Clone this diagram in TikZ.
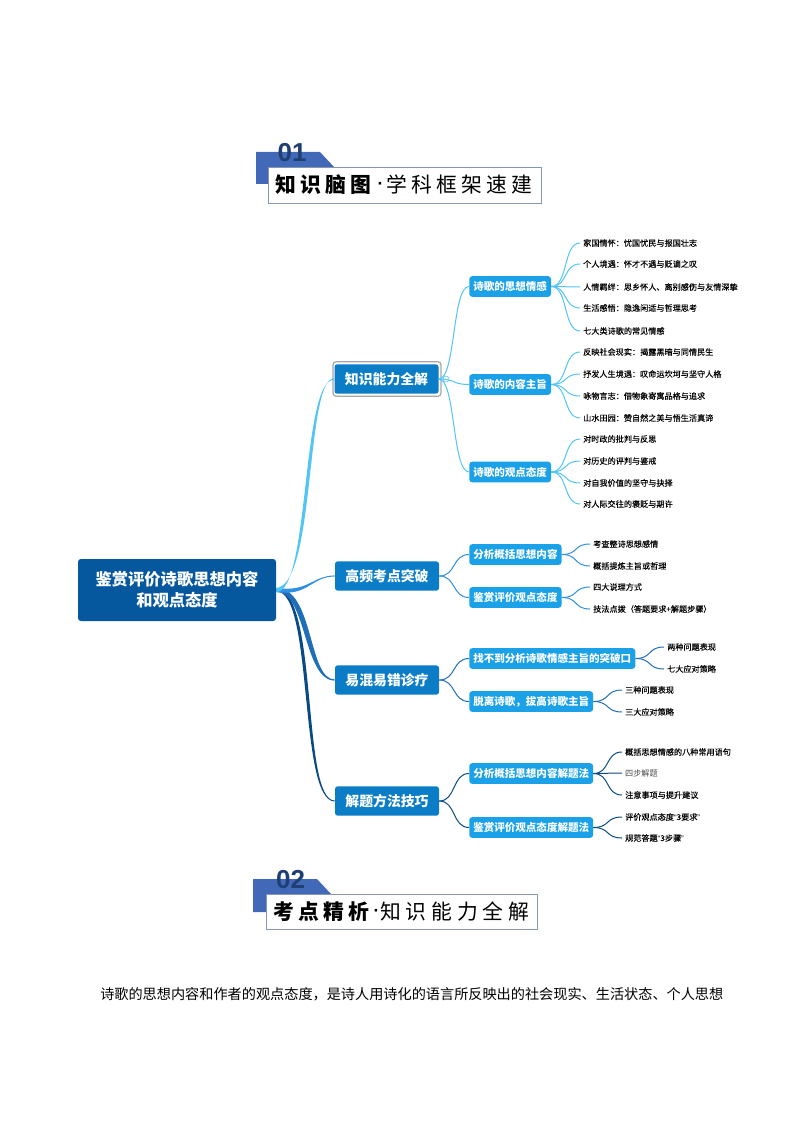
\documentclass[tikz,border=0pt]{standalone}
\usepackage{fontspec}
\usetikzlibrary{calc}
\setmainfont{Noto Sans CJK SC}
\newfontfamily\spaced[LetterSpace=20]{Noto Sans CJK SC}
\newfontfamily\spacedb[LetterSpace=23]{Noto Sans CJK SC}
\newfontfamily\leaffont[FakeBold=0.15]{Noto Sans CJK SC}
\newfontfamily\numfont{Liberation Sans}
\definecolor{rootc}{HTML}{05589D}
\definecolor{lonec}{HTML}{0B7DC7}
\definecolor{ltwoc}{HTML}{1AA1E8}
\definecolor{ca}{HTML}{52C4F5}
\definecolor{cb}{HTML}{2F8FE0}
\definecolor{cc}{HTML}{1F6FB8}
\definecolor{cd}{HTML}{0A4A84}
\definecolor{ribbon}{HTML}{4269B8}
\definecolor{numc}{HTML}{1F3F73}
\definecolor{framec}{HTML}{8595B2}
\tikzset{
 rootbox/.style={fill=rootc,rounded corners=2.2,text=white,font=\bfseries\fontsize{12.2pt}{15.7pt}\selectfont,align=center,minimum width=148.5pt,minimum height=46.5pt,inner sep=0pt},
 lone/.style={fill=lonec,rounded corners=2,text=white,font=\bfseries\fontsize{10.4pt}{12pt}\selectfont,minimum width=78pt,minimum height=22pt,inner sep=0pt},
 ltwo/.style={fill=ltwoc,rounded corners=2.2,text=white,font=\bfseries\fontsize{7.9pt}{10pt}\selectfont,minimum height=15.5pt,inner xsep=3pt,inner ysep=0pt,anchor=west},
 leaf/.style={anchor=west,inner xsep=2.2pt,inner ysep=0pt,text=black,font=\leaffont\fontsize{6.1pt}{7.5pt}\selectfont},
 link/.style={line width=0.75pt},
 titlebox/.style={draw=framec,fill=white,line width=0.8pt,minimum width=204pt,minimum height=27pt,inner sep=0pt,anchor=north west},
 titletext/.style={anchor=west,inner sep=0pt,font=\fontsize{15.6pt}{18pt}\selectfont},
 titledot/.style={anchor=center,inner sep=0pt,font=\numfont\bfseries\fontsize{13pt}{14pt}\selectfont},
 numtext/.style={inner sep=0pt,text=numc,font=\numfont\bfseries\fontsize{19.5pt}{20pt}\selectfont},
}
\newcommand{\conn}[3][ca]{\draw[link,color=#1] (#2.east) .. controls ($(#2.east)+(17,0)$) and ($(#3.west)+(-17,0)$) .. (#3.west);}
% colour, target, end half width, start half width, four control points
\newcommand{\taper}[8]{\fill[#1] ($(root.east)+(0,-#4)$) .. controls #5 and #6 .. ($(#2.west)+(0,-#3)$) -- ($(#2.west)+(0,#3)$) .. controls #7 and #8 .. ($(root.east)+(0,#4)$) -- cycle;}
\begin{document}
\begin{tikzpicture}[x=0.75pt,y=-0.75pt]
\useasboundingbox (0,0) rectangle (794,1123);
% title 1
\fill[ribbon] (256,152) -- (320,152) -- (334,167) -- (334,184) -- (256,184) -- cycle;
\node[numtext] (numa) at (292,153) {01};
\node[titlebox,minimum width=204.75pt] (ta) at (268,167) {};
\node[titletext] (tat) at (275,185) {\spaced\bfseries 知识脑图};
\node[titledot] (tad) at (380.5,186) {·};
\node[titletext] (tau) at (386,185) {\spaced 学科框架速建};
% root
\node[rootbox] (root) at (177,590) {鉴赏评价诗歌思想内容\\和观点态度};
% level 1
\node[draw=gray!70,line width=0.9pt,rounded corners=2.4,minimum width=81pt,minimum height=26pt,inner sep=0pt] (frame) at (387,379) {};
\node[lone] (a) at (386.5,379) {知识能力全解};
\node[lone] (b) at (387,576) {高频考点突破};
\node[lone] (c) at (387,680) {易混易错诊疗};
\node[lone] (d) at (387,801) {解题方法技巧};
\node[circle,draw=ca,fill=white,line width=0.4pt,minimum size=4.5pt,inner sep=0pt] (mark) at (446,379) {};
% level 2
\node[ltwo] (a1) at (469,286.5) {诗歌的思想情感};
\node[ltwo] (a2) at (469,384.5) {诗歌的内容主旨};
\node[ltwo] (a3) at (469,472) {诗歌的观点态度};
\node[ltwo] (b1) at (469,554.5) {分析概括思想内容};
\node[ltwo] (b2) at (469,597.5) {鉴赏评价观点态度};
\node[ltwo] (c1) at (469,658.5) {找不到分析诗歌情感主旨的突破口};
\node[ltwo] (c2) at (469,701.5) {脱离诗歌，拔高诗歌主旨};
\node[ltwo] (d1) at (469,773.5) {分析概括思想内容解题法};
\node[ltwo] (d2) at (469,827.5) {鉴赏评价观点态度解题法};
% leaves
\node[leaf] (a11) at (580,243) {家国情怀：忧国忧民与报国壮志};
\node[leaf] (a12) at (580,264) {个人境遇：怀才不遇与贬谪之叹};
\node[leaf] (a13) at (580,287) {人情羁绊：思乡怀人、离别感伤与友情深挚};
\node[leaf] (a14) at (580,308) {生活感悟：隐逸闲适与哲理思考};
\node[leaf] (a15) at (580,331) {七大类诗歌的常见情感};
\node[leaf] (a21) at (580,352) {反映社会现实：揭露黑暗与同情民生};
\node[leaf] (a22) at (580,374) {抒发人生境遇：叹命运坎坷与坚守人格};
\node[leaf] (a23) at (580,396) {咏物言志：借物象寄寓品格与追求};
\node[leaf] (a24) at (580,418) {山水田园：赞自然之美与悟生活真谛};
\node[leaf] (a31) at (580,439) {对时政的批判与反思};
\node[leaf] (a32) at (580,461) {对历史的评判与鉴戒};
\node[leaf] (a33) at (580,483) {对自我价值的坚守与抉择};
\node[leaf] (a34) at (580,504) {对人际交往的褒贬与期许};
\node[leaf] (b11) at (590,544) {考查整诗思想感情};
\node[leaf] (b12) at (590,566) {概括提炼主旨或哲理};
\node[leaf] (b21) at (590,587) {四大说理方式};
\node[leaf] (b22) at (590,609) {技法点拨（答题要求+解题步骤）};
\node[leaf] (c11) at (664,647) {两种问题表现};
\node[leaf] (c12) at (664,669) {七大应对策略};
\node[leaf] (c21) at (622,690) {三种问题表现};
\node[leaf] (c22) at (622,712) {三大应对策略};
\node[leaf] (d11) at (622,752) {概括思想情感的八种常用语句};
\node[leaf,text=black!70,font=\fontsize{6.1pt}{7.5pt}\selectfont] (d12) at (622,773) {四步解题};
\node[leaf] (d13) at (622,795) {注意事项与提升建议};
\node[leaf] (d21) at (622,817) {评价观点态度{\numfont “}3要求{\numfont ”}};
\node[leaf] (d22) at (622,838) {规范答题{\numfont “}3步骤{\numfont ”}};
% root connectors
\taper{cd}{d}{0.5}{1.2}{(319,590)}{(301,801)}{(298,801)}{(314,591)}
\taper{cc}{c}{0.6}{2}{(314,588)}{(308,680)}{(303,680)}{(307,592)}
\taper{cb}{b}{0.6}{2}{(308,592.5)}{(312,576)}{(312,576)}{(308,597)}
\taper{ca}{a}{0.8}{2}{(316,584)}{(305,379)}{(301,379)}{(310,592)}
% level 1 to level 2
\foreach \k in {a1,a2,a3}{\conn[ca]{a}{\k}}
\foreach \k in {b1,b2}{\conn[cb]{b}{\k}}
\foreach \k in {c1,c2}{\conn[cc]{c}{\k}}
\foreach \k in {d1,d2}{\conn[cd]{d}{\k}}
% level 2 to leaves
\foreach \k in {a11,a12,a13,a14,a15}{\conn[ca]{a1}{\k}}
\foreach \k in {a21,a22,a23,a24}{\conn[ca]{a2}{\k}}
\foreach \k in {a31,a32,a33,a34}{\conn[ca]{a3}{\k}}
\foreach \k in {b11,b12}{\conn[cb]{b1}{\k}}
\foreach \k in {b21,b22}{\conn[cb]{b2}{\k}}
\foreach \k in {c11,c12}{\conn[cc]{c1}{\k}}
\foreach \k in {c21,c22}{\conn[cc]{c2}{\k}}
\foreach \k in {d11,d12,d13}{\conn[cd]{d1}{\k}}
\foreach \k in {d21,d22}{\conn[cd]{d2}{\k}}
% title 2
\fill[ribbon] (253,879) -- (317,879) -- (331,894) -- (331,912) -- (253,912) -- cycle;
\node[numtext] (numb) at (290.5,880) {02};
\node[titlebox,minimum width=203.25pt,minimum height=26.25pt] (tb) at (266,894) {};
\node[titletext] (tbt) at (273,912) {\spaced\bfseries 考点精析};
\node[titledot] (tbd) at (376.5,913) {·};
\node[titletext] (tbu) at (380,912) {\spacedb 知识能力全解};
% body line
\node[inner sep=0pt,anchor=west,font=\fontsize{10.62pt}{12pt}\selectfont] (body) at (100,994) {诗歌的思想内容和作者的观点态度，是诗人用诗化的语言所反映出的社会现实、生活状态、个人思想};
\end{tikzpicture}
\end{document}
